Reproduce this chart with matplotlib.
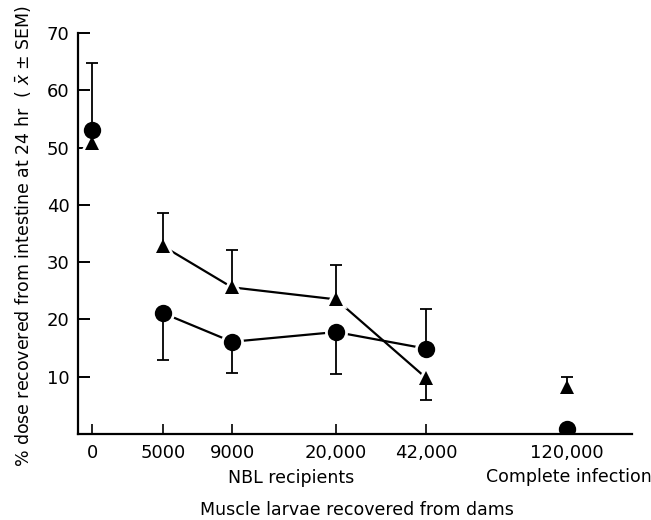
import matplotlib.pyplot as plt
import numpy as np

# muscle larvae recovered from dams (categories on the x axis)
dose_labels = ['0', '5000', '9000', '20,000', '42,000', '120,000']
# horizontal spacing of the categories as drawn in the figure
x_pos = np.array([0, 71, 140, 244, 334, 475])

# circles
circ_mean = np.array([53.0, 21.1, 16.1, 17.8, 14.9, 0.9])
circ_lo = np.array([0.0, 8.1, 5.4, 7.3, 0.0, 0.0])
circ_hi = np.array([11.8, 0.0, 0.0, 0.0, 7.0, 0.0])

# triangles
tri_mean = np.array([50.8, 32.8, 25.6, 23.5, 9.8, 8.2])
tri_lo = np.array([0.0, 0.0, 0.0, 0.0, 3.8, 0.0])
tri_hi = np.array([0.0, 5.7, 6.5, 6.0, 0.0, 1.8])

y_ticks = [10, 20, 30, 40, 50, 60, 70]

# points joined by lines (NBL recipients only)
joined = slice(1, 5)


def one_sided_bars(ax, mean, err, sign):
    # error bar drawn on one side only, with a cap at its end
    m = err > 0
    ends = mean[m] + sign * err[m]
    ax.vlines(x_pos[m], mean[m], ends, color='black', lw=1.3, zorder=3)
    ax.plot(x_pos[m], ends, ls='none', marker='_', ms=9, mew=1.3,
            color='black', zorder=3)


def draw_series(ax, mean, lo, hi, marker, ms):
    # connecting line, broken a little around each marker
    ax.plot(x_pos[joined], mean[joined], color='black', lw=1.6, zorder=1)
    ax.plot(x_pos, mean, ls='none', marker=marker, ms=ms, mfc='white',
            mec='white', mew=4, zorder=2)
    one_sided_bars(ax, mean, lo, -1)
    one_sided_bars(ax, mean, hi, 1)
    ax.plot(x_pos, mean, ls='none', marker=marker, ms=ms, color='black',
            mec='black', mew=0, zorder=4)


def main():
    plt.rcParams['font.family'] = 'DejaVu Sans'
    fig = plt.figure(figsize=(6.51, 5.2), dpi=100)
    ax = fig.add_axes([78 / 651, 1 - 434 / 520, (632 - 78) / 651, (434 - 33) / 520])

    draw_series(ax, circ_mean, circ_lo, circ_hi, 'o', 12.5)
    draw_series(ax, tri_mean, tri_lo, tri_hi, '^', 10)

    ax.set_xlim(-14, 540)
    ax.set_ylim(0, 70)
    ax.set_xticks(x_pos)
    ax.set_xticklabels(dose_labels)
    ax.set_yticks(y_ticks)

    for side in ['top', 'right']:
        ax.spines[side].set_visible(False)
    for side in ['left', 'bottom']:
        ax.spines[side].set_linewidth(1.6)
    ax.tick_params(axis='y', direction='in', length=8.5, width=1.4,
                   labelsize=13, pad=6)
    ax.tick_params(axis='x', direction='in', length=7, width=1.2,
                   labelsize=13, pad=7)

    fig.text(23 / 651, 1 - 236 / 520,
             r'% dose recovered from intestine at 24 hr  ( $\bar{x}$ $\pm$ SEM)',
             rotation=90, ha='center', va='center', fontsize=12.5)
    fig.text(291 / 651, 1 - 478 / 520, 'NBL recipients',
             ha='center', va='center', fontsize=12.5)
    fig.text(569 / 651, 1 - 477 / 520, 'Complete infection',
             ha='center', va='center', fontsize=12.5)
    fig.text(357 / 651, 1 - 510 / 520, 'Muscle larvae recovered from dams',
             ha='center', va='center', fontsize=12.5)

    fig.savefig('out.png', dpi=100)


if __name__ == '__main__':
    main()
